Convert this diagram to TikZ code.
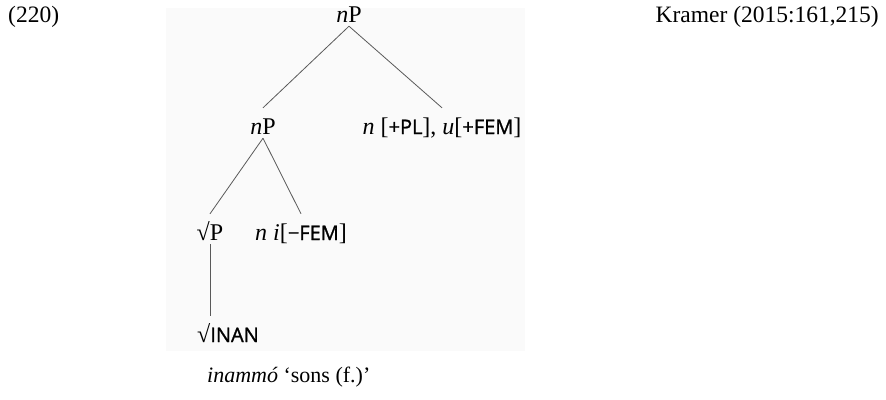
\documentclass[tikz,border=0pt]{standalone}
\usepackage{fontspec}
\setmainfont{Liberation Serif}
\newfontfamily\scfont{Open Sans}[FakeBold=1.2]
\newcommand{\feat}[1]{{\scfont\fontsize{20}{20}\selectfont #1}}
\begin{document}
\begin{tikzpicture}[x=1pt,y=-1pt,
  outer/.style={inner sep=0pt,font=\fontsize{23.5}{27}\selectfont},
  tnode/.style={anchor=base,inner xsep=0pt,inner ysep=4pt,text height=22pt,text depth=0pt,font=\fontsize{24}{28}\selectfont},
  branch/.style={draw=black!65,line width=0.8pt}]
\useasboundingbox (0,0) rectangle (886,399);
\fill[black!2] (166,8) rectangle (525,351);
\node[outer,anchor=base west] (ex) at (8,22) {(220)};
\node[outer,anchor=base east] (src) at (879,22) {Kramer (2015:161,215)};
\node[tnode] (root) at (349,22) {\textit{n}P};
\node[tnode] (nl) at (263,134) {\textit{n}P};
\node[tnode] (nr) at (442,134) {\textit{n} [\feat{+PL}], \textit{u}[\feat{+FEM}]};
\node[tnode] (sp) at (210,240) {√P};
\node[tnode] (nf) at (301,240) {\textit{n} \textit{i}[\feat{−FEM}]};
\node[tnode,anchor=base west] (inan) at (197,342) {√\feat{INAN}};
\node[outer,anchor=base west,font=\fontsize{22}{26}\selectfont] (gloss) at (207,382) {\textit{inammó} ‘sons (f.)’};
\draw[branch] (root.south) -- (nl.north);
\draw[branch] (root.south) -- (nr.north);
\draw[branch] (nl.south) -- (sp.north);
\draw[branch] (nl.south) -- (nf.north);
\draw[branch] (sp.south) -- (sp.south |- inan.north);
\end{tikzpicture}
\end{document}
